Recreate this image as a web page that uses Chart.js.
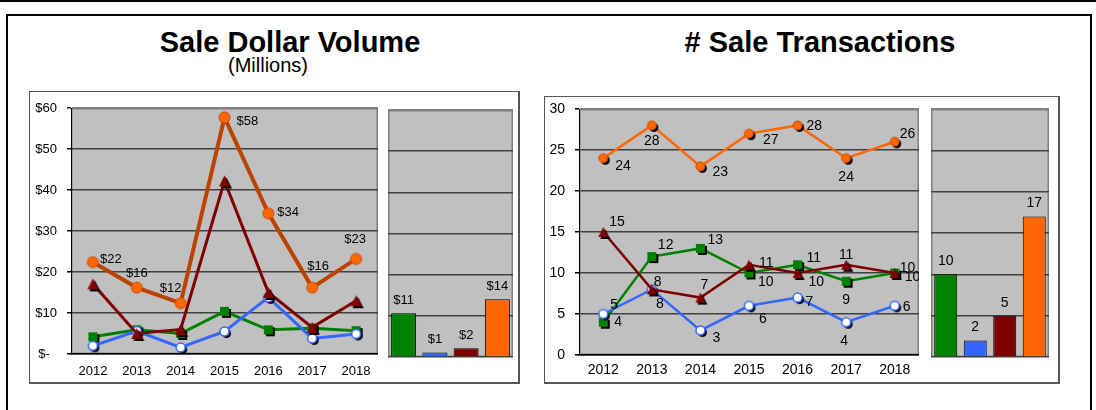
<!DOCTYPE html>
<html><head><meta charset="utf-8">
<script src="https://cdn.jsdelivr.net/npm/chart.js@4.4.0/dist/chart.umd.min.js"></script>
<style>
html,body{margin:0;padding:0;background:#fff;}
body{width:1096px;height:410px;position:relative;overflow:hidden;font-family:"Liberation Sans",Arial,sans-serif;}
.abs{position:absolute;}
#topbar{left:0;top:0;width:1096px;height:2px;background:#000;}
#frame{left:6px;top:14px;width:1086px;height:420px;border:2px solid #000;box-sizing:border-box;}
.box{border-style:solid;border-color:#555;border-width:1px 2px 2px 1px;box-sizing:border-box;background:#fff;}
#boxL{left:29px;top:91px;width:491px;height:293px;}
#boxR{left:544px;top:96px;width:516px;height:288px;}
.title{font-weight:bold;font-size:29px;text-align:center;white-space:nowrap;line-height:1;color:#000;}
.sub{font-size:20px;text-align:center;white-space:nowrap;line-height:1;color:#000;}
canvas{position:absolute;}
</style>
</head>
<body>
<div id="topbar" class="abs"></div>
<div id="frame" class="abs"></div>
<div class="abs title" style="left:90px;top:28px;width:400px;">Sale Dollar Volume</div>
<div class="abs sub" style="left:168px;top:55px;width:200px;">(Millions)</div>
<div class="abs title" style="left:620px;top:28px;width:400px;"># Sale Transactions</div>
<div id="boxL" class="abs box"></div>
<div id="boxR" class="abs box"></div>
<canvas id="volLine" width="348" height="290" style="left:30px;top:92px;"></canvas>
<canvas id="volBar" width="125" height="260" style="left:388px;top:100px;"></canvas>
<canvas id="cntLine" width="374" height="285" style="left:545px;top:97px;"></canvas>
<canvas id="cntBar" width="118" height="260" style="left:931px;top:100px;"></canvas>
<script>
// ---------- data ----------
const YEARS = ['2012','2013','2014','2015','2016','2017','2018'];
const VOL_ORANGE = [22.4, 16.2, 12.4, 57.7, 34.3, 16.2, 23.2];
const VOL_RED    = [17.1, 5.0, 6.0, 42.2, 15.0, 6.5, 13.0];
const VOL_GREEN  = [4.2, 5.9, 5.0, 10.4, 5.9, 6.3, 5.7];
const VOL_BLUE   = [2.0, 5.6, 1.6, 5.5, 13.8, 3.8, 4.9];
const VOL_BARS   = [10.6, 1.1, 2.1, 14.0];
const CNT_ORANGE = [24, 28, 23, 27, 28, 24, 26];
const CNT_RED    = [15, 8, 7, 11, 10, 11, 10];
const CNT_GREEN  = [4, 12, 13, 10, 11, 9, 10];
const CNT_BLUE   = [5, 8, 3, 6, 7, 4, 6];
const CNT_BARS   = [10, 2, 5, 17];
const BAR_CATS   = ['Green', 'Blue', 'Red', 'Orange'];
const VOL_MAX = 60, VOL_STEP = 10;
const CNT_MAX = 30, CNT_STEP = 5;

// ---------- styles ----------
const FONT = '"Liberation Sans", Arial, sans-serif';
Chart.defaults.font.family = FONT;
Chart.defaults.color = '#000';
const C_ORANGE = '#FF6600', C_RED = '#800000', C_GREEN = '#008000', C_BLUE = '#3366FF';

function marker(shape, size, fill, stroke, lw, shadow) {
  const off = shadow ? 2 : 0;
  const half = size / 2 + off + 2;
  const c = document.createElement('canvas');
  c.width = c.height = Math.ceil(half * 2);
  const g = c.getContext('2d');
  const cx = c.width / 2, cy = c.height / 2;
  function path(x, y) {
    g.beginPath();
    if (shape === 'circle') g.arc(x, y, size / 2, 0, Math.PI * 2);
    else if (shape === 'rect') g.rect(x - size / 2, y - size / 2, size, size);
    else { g.moveTo(x, y - size / 2); g.lineTo(x + size / 2, y + size / 2); g.lineTo(x - size / 2, y + size / 2); g.closePath(); }
  }
  if (shadow) { path(cx + off, cy + off); g.fillStyle = '#000'; g.fill(); }
  path(cx, cy); g.fillStyle = fill; g.fill();
  if (lw) { g.lineWidth = lw; g.strokeStyle = stroke; g.stroke(); }
  return c;
}

// label placements: [align, dx, dy]
const PLACE_VOL_ORANGE = [['l',7,-3],['c',0,-14],['c',-10,-15],['l',12,4],['l',9,-1],['c',6,-21],['c',-1,-19]];
const PLACE_CNT_ORANGE = [['l',12,8],['c',0,16],['l',12,6],['l',14,7],['l',9,1],['c',0,19],['l',5,-8]];
const PLACE_CNT_RED    = [['l',6,-10],['c',8,15],['c',4,-12],['l',10,-2],['l',11,9],['c',0,-10],['l',10,4]];
const PLACE_CNT_GREEN  = [['l',11,0],['l',6,-11],['l',7,-8],['l',9,9],['l',9,-7],['c',0,19],['l',5,-5]];
const PLACE_CNT_BLUE   = [['l',7,-9],['l',2,-7],['l',12,8],['c',14,13],['l',8,5],['c',-2,19],['l',8,1]];
const PLACE_BARS = [['c',0,-13],['c',0,-13],['c',0,-13],['c',0,-13]];

const bgPlugin = {
  id: 'plotbg',
  beforeDraw(chart) {
    const a = chart.chartArea, g = chart.ctx;
    g.save();
    g.fillStyle = '#C0C0C0';
    g.fillRect(a.left, a.top, a.right - a.left, a.bottom - a.top);
    g.strokeStyle = '#808080'; g.lineWidth = 1.5;
    g.strokeRect(a.left + 0.75, a.top + 0.75, a.right - a.left - 1.5, a.bottom - a.top - 1.5);
    g.restore();
  }
};

const labelPlugin = {
  id: 'ptlabels',
  afterDatasetsDraw(chart) {
    const g = chart.ctx, a = chart.chartArea;
    g.save();
    g.beginPath(); g.rect(a.left, 0, a.right - a.left, chart.height); g.clip();
    chart.data.datasets.forEach((ds, i) => {
      const place = ds.labelPlace; if (!place) return;
      const meta = chart.getDatasetMeta(i);
      g.font = ds.labelSize + 'px ' + FONT;
      g.fillStyle = '#000'; g.textBaseline = 'middle';
      meta.data.forEach((el, j) => {
        const p = place[j]; if (!p) return;
        g.textAlign = p[0] === 'l' ? 'left' : 'center';
        g.fillText((ds.labelPrefix || '') + Math.round(ds.data[j]), el.x + p[1], el.y + p[2]);
      });
    });
    g.restore();
  }
};

function lineDs(label, data, color, lw, mk, place, size, prefix) {
  return { label, data, borderColor: color, backgroundColor: color, borderWidth: lw,
    pointStyle: mk, pointRadius: 5, pointHoverRadius: 5, tension: 0, fill: false,
    labelPlace: place, labelSize: size, labelPrefix: prefix };
}

function lineOptions(max, step, fontSize, yWidth, xHeight, padTop, yPad, xPad, yFmt) {
  return {
    responsive: false, animation: false, devicePixelRatio: 1,
    layout: { padding: { top: padTop, left: 0, right: 0, bottom: 0 }, autoPadding: false },
    plugins: { legend: { display: false }, tooltip: { enabled: false } },
    scales: {
      x: { offset: true, grid: { display: false, drawTicks: false },
           border: { display: true, color: '#000', width: 1.5 },
           ticks: { padding: xPad, color: '#000', font: { size: fontSize }, maxRotation: 0, autoSkip: false },
           afterFit(s) { s.height = xHeight; s.paddingLeft = 0; s.paddingRight = 0; } },
      y: { min: 0, max: max,
           grid: { color: c => (c.tick && c.tick.value === max) ? '#808080' : '#404040', lineWidth: 1.5,
                   tickColor: '#000', tickLength: 4, drawTicks: true },
           border: { display: true, color: '#000', width: 1 },
           ticks: { stepSize: step, padding: yPad, color: '#000', font: { size: fontSize }, callback: yFmt },
           afterFit(s) { s.width = yWidth; s.paddingTop = 0; s.paddingBottom = 0; } }
    }
  };
}

function barOptions(max, step, padTop, padBottom, barPct) {
  return {
    responsive: false, animation: false, devicePixelRatio: 1,
    layout: { padding: { top: padTop, left: 0, right: 0, bottom: padBottom }, autoPadding: false },
    plugins: { legend: { display: false }, tooltip: { enabled: false } },
    datasets: { bar: { categoryPercentage: 1, barPercentage: barPct } },
    scales: {
      x: { display: false },
      y: { min: 0, max: max,
           grid: { color: c => (c.tick && c.tick.value === max) ? '#808080' : '#404040', lineWidth: 1.5, drawTicks: false },
           border: { display: false },
           ticks: { display: false, stepSize: step },
           afterFit(s) { s.width = 0; s.paddingTop = 0; s.paddingBottom = 0; } }
    }
  };
}

// ---------- left: Sale Dollar Volume ----------
new Chart(document.getElementById('volLine'), {
  type: 'line',
  data: { labels: YEARS, datasets: [
    lineDs('Orange', VOL_ORANGE, '#BB4400', 4, marker('circle', 11, C_ORANGE, '#C84A00', 1, false), PLACE_VOL_ORANGE, 13, '$'),
    lineDs('Red', VOL_RED, C_RED, 3, marker('tri', 11, C_RED, null, 0, true)),
    lineDs('Blue', VOL_BLUE, C_BLUE, 3, marker('circle', 9, '#FFFFFF', C_BLUE, 1.5, true)),
    lineDs('Green', VOL_GREEN, C_GREEN, 3, marker('rect', 9, C_GREEN, null, 0, true))
  ]},
  options: lineOptions(VOL_MAX, VOL_STEP, 13, 41, 28, 16, 10, 10, v => v === 0 ? '$-  ' : '$' + v),
  plugins: [bgPlugin, labelPlugin]
});

new Chart(document.getElementById('volBar'), {
  type: 'bar',
  data: { labels: BAR_CATS, datasets: [{
    data: VOL_BARS, backgroundColor: [C_GREEN, C_BLUE, C_RED, C_ORANGE], borderColor: '#000', borderWidth: 1,
    labelPlace: PLACE_BARS, labelSize: 13, labelPrefix: '$'
  }]},
  options: barOptions(VOL_MAX, VOL_STEP, 10, 3, 0.8),
  plugins: [bgPlugin, labelPlugin]
});

// ---------- right: # Sale Transactions ----------
new Chart(document.getElementById('cntLine'), {
  type: 'line',
  data: { labels: YEARS, datasets: [
    lineDs('Orange', CNT_ORANGE, C_ORANGE, 2.5, marker('circle', 9, C_ORANGE, '#C84A00', 1, true), PLACE_CNT_ORANGE, 14, ''),
    lineDs('Red', CNT_RED, C_RED, 2.5, marker('tri', 10, C_RED, null, 0, true), PLACE_CNT_RED, 14, ''),
    lineDs('Blue', CNT_BLUE, C_BLUE, 2.5, marker('circle', 9, '#FFFFFF', C_BLUE, 1.5, true), PLACE_CNT_BLUE, 14, ''),
    lineDs('Green', CNT_GREEN, C_GREEN, 2.5, marker('rect', 9, C_GREEN, null, 0, true), PLACE_CNT_GREEN, 14, '')
  ]},
  options: lineOptions(CNT_MAX, CNT_STEP, 14, 34, 27, 12, 10, 7, v => String(v)),
  plugins: [bgPlugin, labelPlugin]
});

new Chart(document.getElementById('cntBar'), {
  type: 'bar',
  data: { labels: BAR_CATS, datasets: [{
    data: CNT_BARS, backgroundColor: [C_GREEN, C_BLUE, C_RED, C_ORANGE], borderColor: '#000', borderWidth: 1,
    labelPlace: PLACE_BARS, labelSize: 14, labelPrefix: ''
  }]},
  options: barOptions(CNT_MAX, CNT_STEP, 9, 3, 0.78),
  plugins: [bgPlugin, labelPlugin]
});
</script>
</body></html>
